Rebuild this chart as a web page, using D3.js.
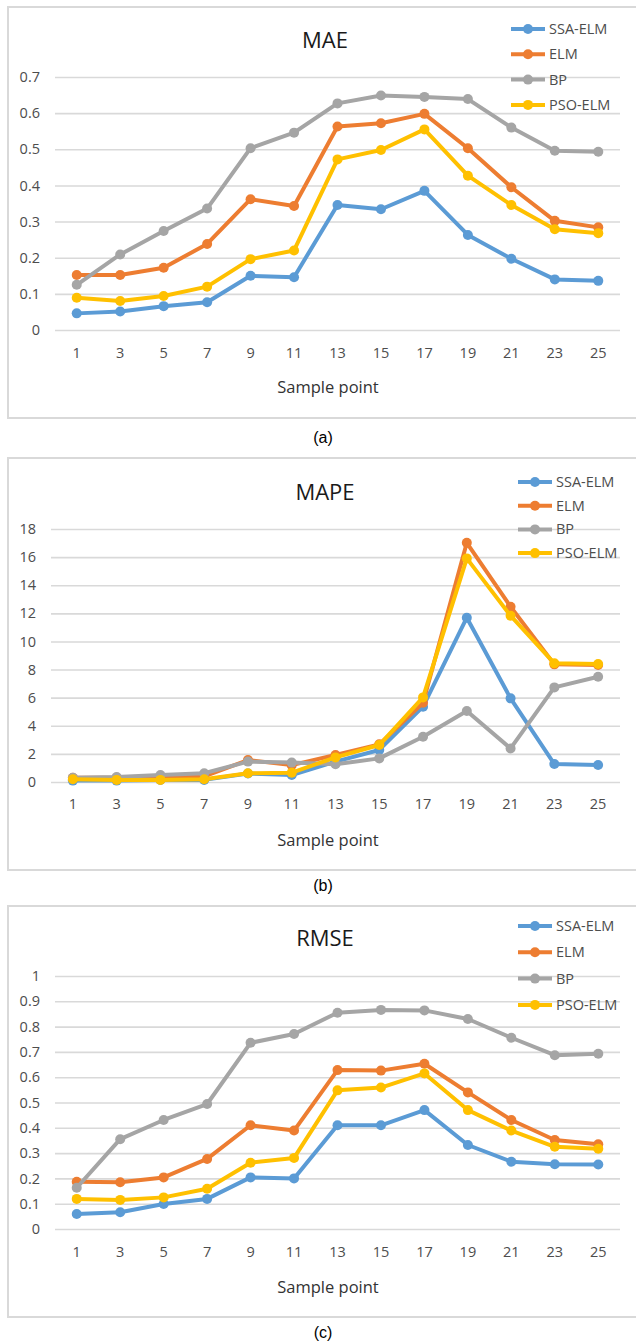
<!DOCTYPE html>
<html>
<head>
<meta charset="utf-8">
<script src="https://cdn.jsdelivr.net/npm/d3@7/dist/d3.min.js"></script>
<style>
  html, body { margin: 0; padding: 0; background: #fff; }
  svg { display: block; }
  text { font-family: "Open Sans", "Noto Sans", sans-serif; }
</style>
</head>
<body>
<div id="chart"></div>
<script>
// Sample points on the horizontal axis
const samplePoints = [1, 3, 5, 7, 9, 11, 13, 15, 17, 19, 21, 23, 25];
const seriesNames = ["SSA-ELM", "ELM", "BP", "PSO-ELM"];
const seriesColors = ["#5B9BD5", "#ED7D31", "#A5A5A5", "#FFC000"];

// MAE per model
const maeSSAELM = [0.046, 0.051, 0.066, 0.077, 0.150, 0.146, 0.346, 0.334, 0.385, 0.263, 0.197, 0.140, 0.136];
const maeELM    = [0.152, 0.152, 0.172, 0.238, 0.362, 0.343, 0.563, 0.572, 0.598, 0.503, 0.395, 0.302, 0.284];
const maeBP     = [0.125, 0.209, 0.274, 0.336, 0.503, 0.546, 0.627, 0.649, 0.645, 0.639, 0.560, 0.496, 0.493];
const maePSOELM = [0.089, 0.080, 0.094, 0.120, 0.196, 0.220, 0.472, 0.498, 0.555, 0.427, 0.346, 0.279, 0.268];
const maeTicks  = [0, 0.1, 0.2, 0.3, 0.4, 0.5, 0.6, 0.7];

// MAPE per model
const mapeSSAELM = [0.10, 0.10, 0.15, 0.15, 0.60, 0.50, 1.45, 2.28, 5.36, 11.69, 5.95, 1.28, 1.21];
const mapeELM    = [0.30, 0.30, 0.30, 0.40, 1.56, 1.20, 1.92, 2.68, 5.64, 17.02, 12.47, 8.37, 8.32];
const mapeBP     = [0.30, 0.35, 0.50, 0.62, 1.45, 1.38, 1.26, 1.68, 3.22, 5.05, 2.39, 6.73, 7.49];
const mapePSOELM = [0.19, 0.15, 0.15, 0.20, 0.62, 0.66, 1.75, 2.63, 6.02, 15.91, 11.83, 8.44, 8.40];
const mapeTicks  = [0, 2, 4, 6, 8, 10, 12, 14, 16, 18];

// RMSE per model
const rmseSSAELM = [0.059, 0.066, 0.099, 0.119, 0.204, 0.200, 0.410, 0.410, 0.470, 0.332, 0.266, 0.256, 0.255];
const rmseELM    = [0.187, 0.185, 0.204, 0.277, 0.410, 0.389, 0.628, 0.626, 0.653, 0.540, 0.431, 0.352, 0.335];
const rmseBP     = [0.163, 0.355, 0.431, 0.494, 0.736, 0.771, 0.855, 0.866, 0.864, 0.830, 0.756, 0.687, 0.693];
const rmsePSOELM = [0.119, 0.115, 0.125, 0.159, 0.262, 0.281, 0.548, 0.559, 0.615, 0.470, 0.389, 0.325, 0.317];
const rmseTicks  = [0, 0.1, 0.2, 0.3, 0.4, 0.5, 0.6, 0.7, 0.8, 0.9, 1];

const panels = [
  { title: "MAE",  caption: "(a)", series: [maeSSAELM, maeELM, maeBP, maePSOELM], ticks: maeTicks,
    box: [8, 7, 418], plotX: [55, 620], plotY: [330, 77], titleY: 40, xLabY: 353, xTitleY: 387,
    legendY: 29, legendStep: 25.3, legendX: 528, captionY: 437 },
  { title: "MAPE", caption: "(b)", series: [mapeSSAELM, mapeELM, mapeBP, mapePSOELM], ticks: mapeTicks,
    box: [8, 458, 870], plotX: [51, 620], plotY: [782, 529], titleY: 492, xLabY: 804, xTitleY: 840,
    legendY: 482, legendStep: 23.7, legendX: 535, captionY: 885 },
  { title: "RMSE", caption: "(c)", series: [rmseSSAELM, rmseELM, rmseBP, rmsePSOELM], ticks: rmseTicks,
    box: [8, 906, 1317], plotX: [55, 620], plotY: [1229, 976], titleY: 938, xLabY: 1252, xTitleY: 1287,
    legendY: 926, legendStep: 26.3, legendX: 535, captionY: 1332 }
];

const W = 636, H = 1343;
const svg = d3.select("#chart").append("svg").attr("width", W).attr("height", H);

panels.forEach(p => {
  const g = svg.append("g");

  // Chart frame (right side runs off the page)
  g.append("rect")
    .attr("x", p.box[0]).attr("y", p.box[1])
    .attr("width", W + 20 - p.box[0]).attr("height", p.box[2] - p.box[1])
    .attr("fill", "#fff").attr("stroke", "#D9D9D9").attr("stroke-width", 2);

  const x = d3.scaleBand().domain(samplePoints).range(p.plotX).padding(0);
  const y = d3.scaleLinear().domain([0, d3.max(p.ticks)]).range(p.plotY);
  const plotW = p.plotX[1] - p.plotX[0];

  // Horizontal gridlines with value labels
  const yAxis = g.append("g")
    .attr("transform", `translate(${p.plotX[0]},0)`)
    .call(d3.axisLeft(y).tickValues(p.ticks).tickSize(-plotW).tickPadding(15)
      .tickFormat(d => d3.format("")(+d.toFixed(2))));
  yAxis.select(".domain").remove();
  yAxis.selectAll(".tick line").attr("stroke", "#D9D9D9").attr("stroke-width", 1.6);
  yAxis.selectAll(".tick text").attr("fill", "#4d4d4d").style("font-size", "14.5px")
    .style("font-family", "'Open Sans', sans-serif");

  // Category labels along the bottom
  const xAxis = g.append("g")
    .attr("transform", `translate(0,${p.plotY[0]})`)
    .call(d3.axisBottom(x).tickSize(0).tickPadding(0));
  xAxis.select(".domain").remove();
  xAxis.selectAll(".tick text")
    .attr("y", p.xLabY - p.plotY[0]).attr("dy", "0.35em")
    .attr("fill", "#4d4d4d").style("font-size", "14.5px")
    .style("font-family", "'Open Sans', sans-serif");

  // Axis title and chart title
  g.append("text").attr("x", 328).attr("y", p.xTitleY).attr("dy", "0.35em")
    .attr("text-anchor", "middle").attr("fill", "#333").style("font-size", "16.5px")
    .text("Sample point");
  g.append("text").attr("x", 325).attr("y", p.titleY).attr("dy", "0.35em")
    .attr("text-anchor", "middle").attr("fill", "#1a1a1a").style("font-size", "22px")
    .text(p.title);

  // Series lines and markers
  const line = d3.line()
    .x((d, i) => x(samplePoints[i]) + x.bandwidth() / 2)
    .y(d => y(d));
  p.series.forEach((vals, si) => {
    const sg = g.append("g");
    sg.append("path").datum(vals)
      .attr("d", line).attr("fill", "none")
      .attr("stroke", seriesColors[si]).attr("stroke-width", 4)
      .attr("stroke-linejoin", "round").attr("stroke-linecap", "round");
    sg.selectAll("circle").data(vals).join("circle")
      .attr("cx", (d, i) => x(samplePoints[i]) + x.bandwidth() / 2)
      .attr("cy", d => y(d)).attr("r", 5)
      .attr("fill", seriesColors[si]);
  });

  // Legend
  seriesNames.forEach((name, si) => {
    const ly = p.legendY + si * p.legendStep;
    g.append("line").attr("x1", p.legendX - 17).attr("x2", p.legendX + 17)
      .attr("y1", ly).attr("y2", ly)
      .attr("stroke", seriesColors[si]).attr("stroke-width", 4);
    g.append("circle").attr("cx", p.legendX).attr("cy", ly).attr("r", 5)
      .attr("fill", seriesColors[si]);
    g.append("text").attr("x", p.legendX + 21).attr("y", ly).attr("dy", "0.35em")
      .attr("fill", "#4d4d4d").style("font-size", "14.5px").text(name);
  });

  // Panel caption
  svg.append("text").attr("x", 323).attr("y", p.captionY).attr("dy", "0.35em")
    .attr("text-anchor", "middle").attr("fill", "#000")
    .style("font-family", "'Liberation Sans', Arial, sans-serif").style("font-size", "16px")
    .text(p.caption);
});
</script>
</body>
</html>
